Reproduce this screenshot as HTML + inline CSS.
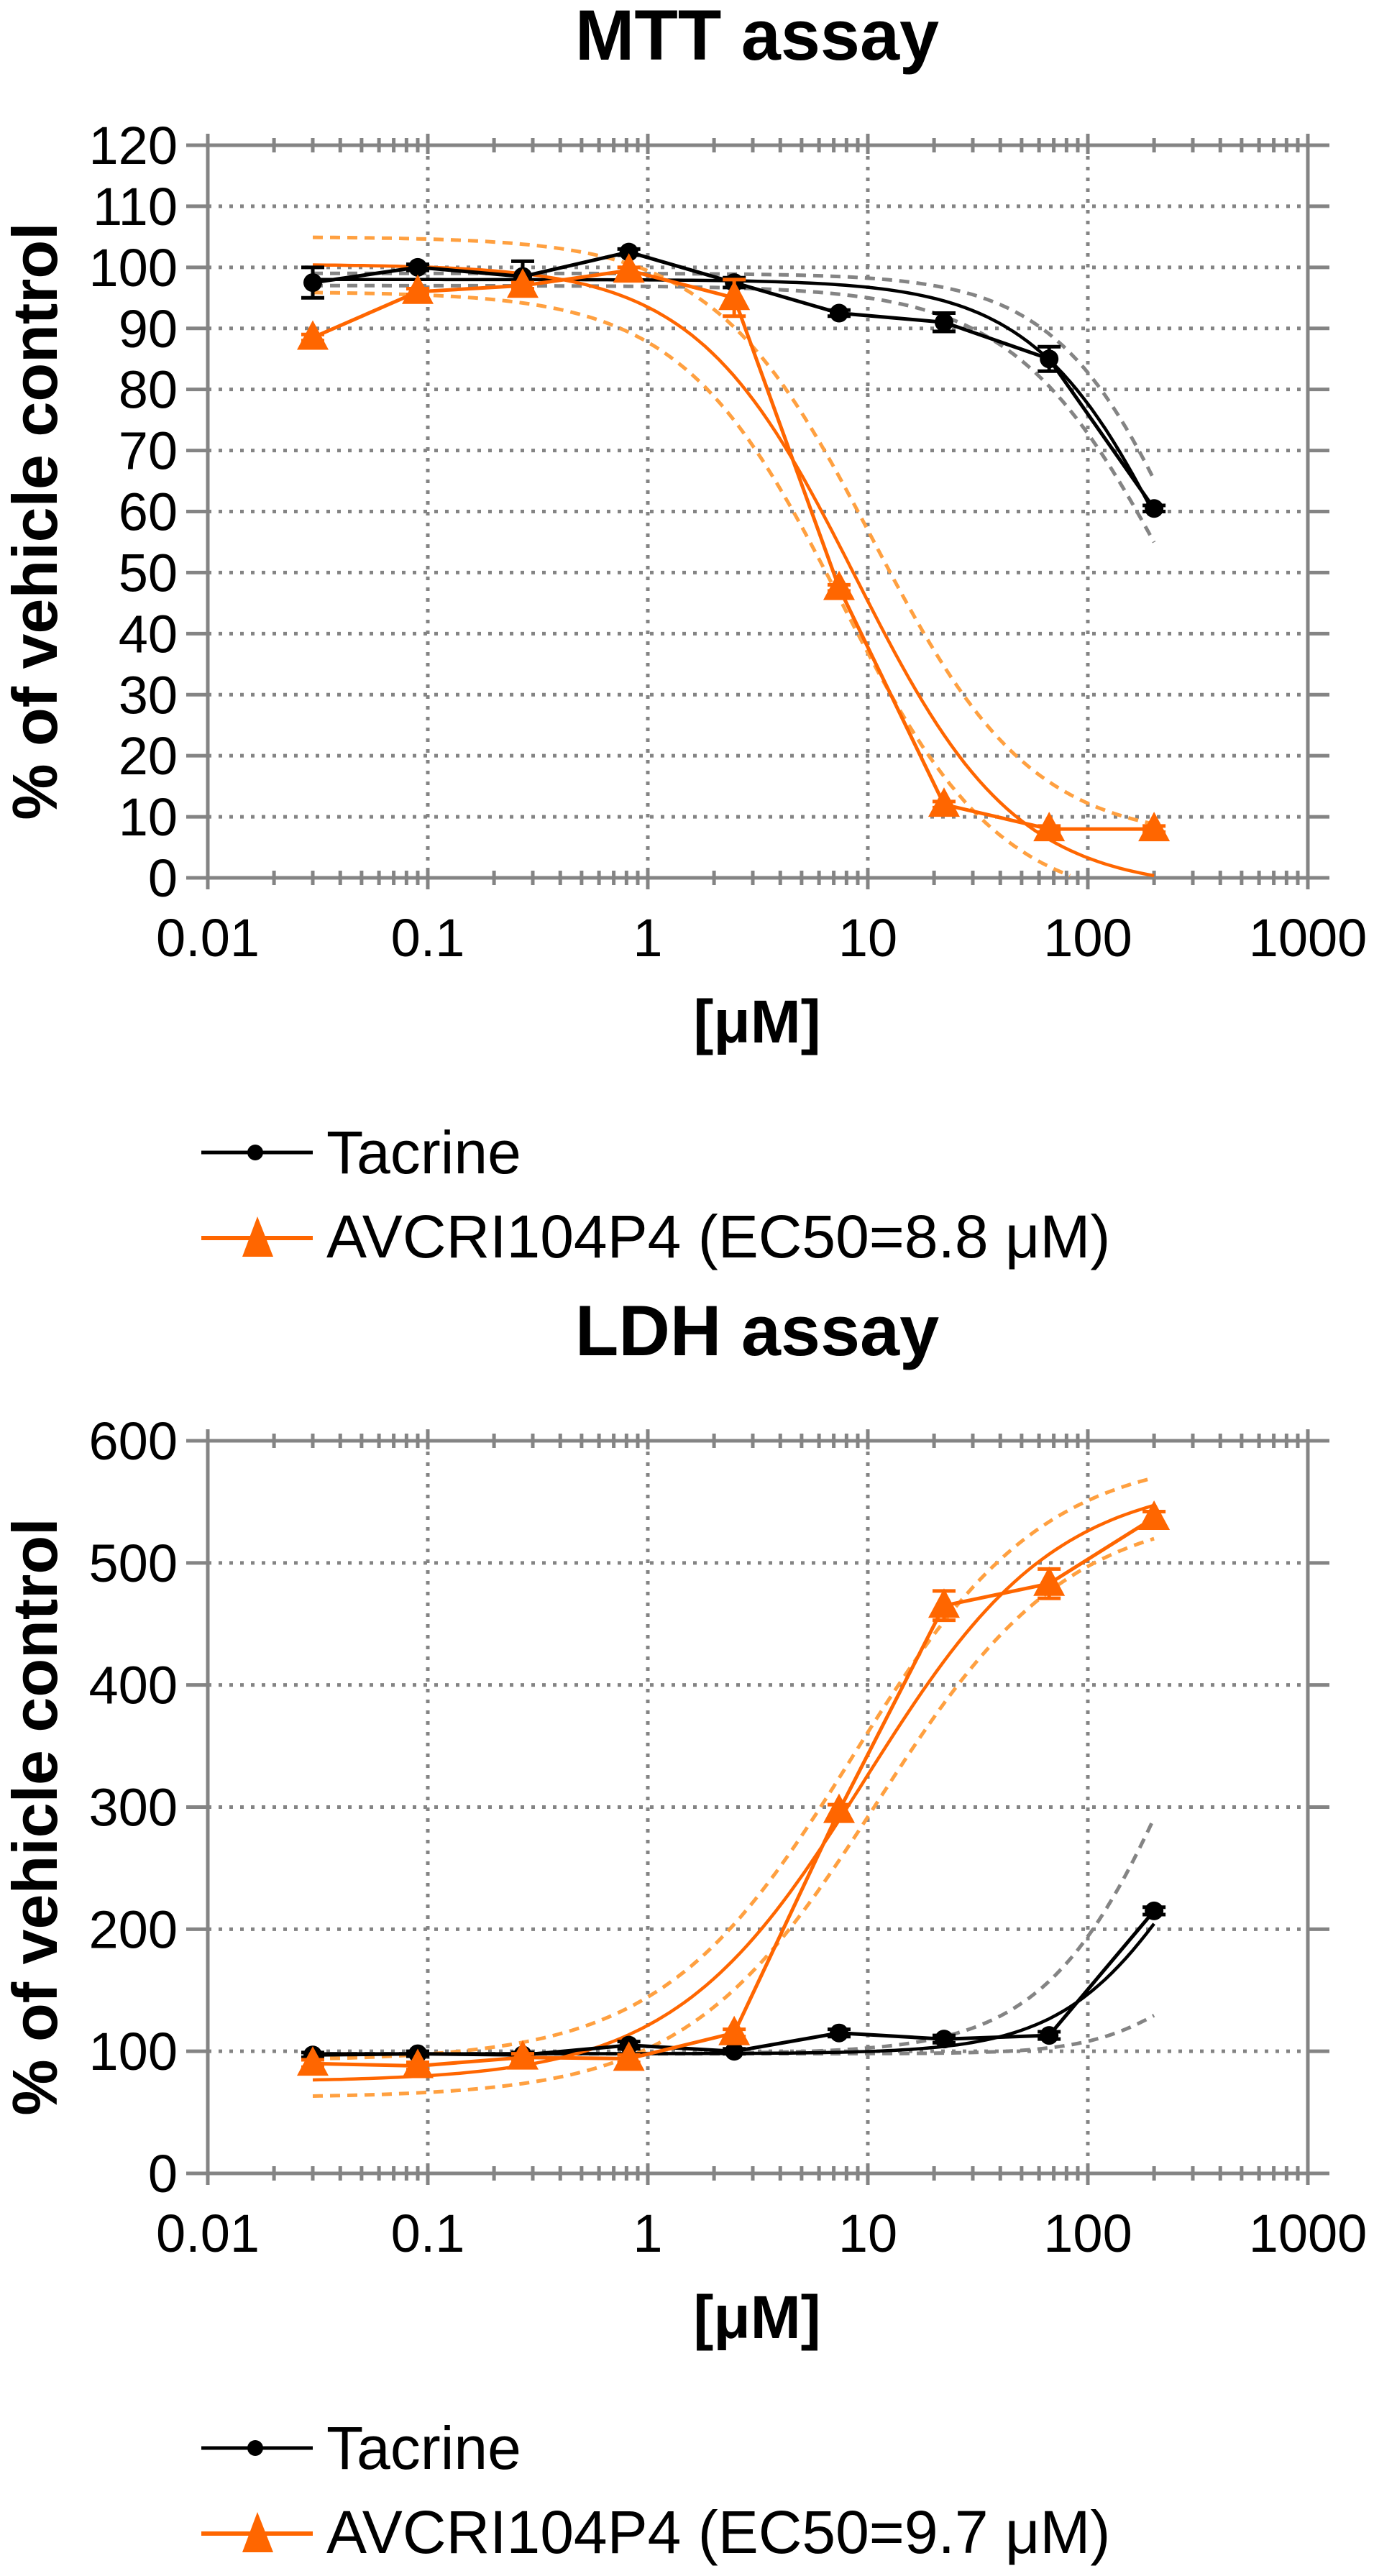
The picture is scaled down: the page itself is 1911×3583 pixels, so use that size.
<!DOCTYPE html>
<html><head><meta charset="utf-8">
<style>
html,body{margin:0;padding:0;background:#fff;}
svg{display:block;}
text{font-family:"Liberation Sans",Arial,sans-serif;}
</style></head>
<body>
<svg id="fig" width="1911" height="3583" viewBox="0 0 1911 3583" xmlns="http://www.w3.org/2000/svg">
<g id="mtt"></g>
<g id="ldh"></g>
</svg>
<script>
// shared concentrations (µM)
const concentrations = [0.03, 0.09, 0.27, 0.82, 2.47, 7.4, 22.2, 66.7, 200];
const xTickLabels = ["0.01", "0.1", "1", "10", "100", "1000"];

// MTT assay
const mttYTicks = [0,10,20,30,40,50,60,70,80,90,100,110,120];
const mttTacrine = [97.5, 100, 98.5, 102.5, 97.5, 92.5, 91, 85, 60.5];
const mttTacrineErr = [2.5, 0.5, 2.5, 0.5, 0.8, 0.5, 1.5, 2, 0.5];
const mttAvcri = [88.5, 96, 97, 99.5, 95, 47.5, 12, 8, 8];
const mttAvcriErr = [0.5, 0.5, 0.5, 0.5, 3, 0.5, 0.5, 0.5, 0.5];
// 4PL fit params: [value at high conc, value at low conc, EC50, hill]
const mttTacrineFit = [0, 98, 280, 1.3];
const mttTacrineFitHi = [0, 99, 320, 1.4];
const mttTacrineFitLo = [0, 97, 250, 1.2];
const mttAvcriFit = [-2, 100.5, 8.8, 1.2];
const mttAvcriFitHi = [6, 105, 10.5, 1.2];
const mttAvcriFitLo = [-5, 96, 7.5, 1.2];

// LDH assay
const ldhYTicks = [0,100,200,300,400,500,600];
const ldhTacrine = [97, 98, 97, 105, 100, 115, 110, 113, 215];
const ldhTacrineErr = [2, 2, 2, 3, 2, 3, 3, 3, 3];
const ldhAvcri = [90, 88, 95, 94, 115, 297, 465, 483, 537];
const ldhAvcriErr = [3, 3, 3, 3, 3, 5, 12, 12, 5];
const ldhTacrineFit = [400, 98, 300, 1.5];
const ldhTacrineFitHi = [600, 98, 280, 1.4];
const ldhTacrineFitLo = [200, 98, 300, 2];
const ldhAvcriFit = [570, 75, 9.7, 1.0];
const ldhAvcriFitHi = [590, 92, 8.5, 1.0];
const ldhAvcriFitLo = [545, 62, 11, 1.0];

const NS = "http://www.w3.org/2000/svg";
const GRAY = "#848484", ORANGE = "#FF6600", LORANGE = "#FFA040";
function mk(tag, attrs, parent){const e=document.createElementNS(NS,tag);for(const k in attrs)e.setAttribute(k,attrs[k]);parent.appendChild(e);return e;}
function fourPL(p, x){return p[0] + (p[1]-p[0]) / (1 + Math.pow(x/p[2], p[3]));}

function drawChart(root, cfg){
  const off = cfg.off;
  const L=289, R=1819, T=202+off, B=1221+off;
  const yMax = cfg.yTicks[cfg.yTicks.length-1];
  const xs = v => L + (Math.log10(v)+2)/5*(R-L);
  const ys = v => B - v/yMax*(B-T);

  let t = mk("text",{x:1053,y:83+off,"font-size":99,"font-weight":"bold","text-anchor":"middle"},root);
  t.textContent = cfg.title;
  
  

  const grid = mk("g",{},root);
  
  
  for(let d=1; d<5; d++){
    const x = L + d/5*(R-L);
    mk("line",{x1:x,y1:T,x2:x,y2:B,stroke:GRAY,"stroke-width":5,"stroke-dasharray":"5 10"},grid);
  }
  cfg.yTicks.forEach(v=>{ if(v>0 && v<yMax){
    mk("line",{x1:L,y1:ys(v),x2:R,y2:ys(v),stroke:GRAY,"stroke-width":5,"stroke-dasharray":"5 10"},grid);
  }});

  const ax = mk("g",{stroke:GRAY,"stroke-width":5,fill:"none"},root);
  
  
  mk("rect",{x:L,y:T,width:R-L,height:B-T},ax);
  for(let d=0; d<=5; d++){
    const x = L + d/5*(R-L);
    mk("line",{x1:x,y1:B-12,x2:x,y2:B+16},ax);
    mk("line",{x1:x,y1:T-16,x2:x,y2:T+12},ax);
    if(d<5) for(let m=2;m<10;m++){
      const xm = x + Math.log10(m)/5*(R-L);
      mk("line",{x1:xm,y1:B-10,x2:xm,y2:B+10},ax);
      mk("line",{x1:xm,y1:T-10,x2:xm,y2:T+10},ax);
    }
  }
  cfg.yTicks.forEach(v=>{
    mk("line",{x1:L-30,y1:ys(v),x2:L,y2:ys(v)},ax);
    mk("line",{x1:R,y1:ys(v),x2:R+30,y2:ys(v)},ax);
  });

  const yl = mk("g",{"font-size":74,"text-anchor":"end"},root);
  
  
  cfg.yTicks.forEach(v=>{
    const e = mk("text",{x:247,y:ys(v)+26},yl); e.textContent = String(v);
  });
  const xl = mk("g",{"font-size":74,"text-anchor":"middle"},root);
  
  
  xTickLabels.forEach((s,i)=>{
    const e = mk("text",{x:L+i/5*(R-L),y:1330+off},xl); e.textContent = s;
  });

  const yt = mk("text",{x:0,y:0,"font-size":88,"font-weight":"bold","text-anchor":"middle",transform:`translate(79,${725+off}) rotate(-90)`},root);
  yt.textContent = "% of vehicle control";
  
  
  const xt = mk("text",{x:1053,y:1450+off,"font-size":84,"font-weight":"bold","text-anchor":"middle"},root);
  xt.textContent = "[μM]";
  
  

  function curve(p, color, dashed, name){
    const pts=[];
    const lo=Math.log10(concentrations[0]), hi=Math.log10(concentrations[concentrations.length-1]);
    for(let i=0;i<=120;i++){
      const x = Math.pow(10, lo+(hi-lo)*i/120);
      const y = fourPL(p,x);
      if(y<0 || y>yMax) continue;
      pts.push(xs(x).toFixed(1)+","+ys(y).toFixed(1));
    }
    const e = mk("polyline",{points:pts.join(" "),fill:"none",stroke:color,"stroke-width":dashed?5:4.5},root);
    if(dashed) e.setAttribute("stroke-dasharray","14 10");
    
    
  }
  curve(cfg.tacFitHi, GRAY, true, 'tacrine-ci-upper');
  curve(cfg.tacFitLo, GRAY, true, 'tacrine-ci-lower');
  curve(cfg.avFitHi, LORANGE, true, 'avcri-ci-upper');
  curve(cfg.avFitLo, LORANGE, true, 'avcri-ci-lower');
  curve(cfg.tacFit, "#000", false, 'tacrine-fit');
  curve(cfg.avFit, ORANGE, false, 'avcri-fit');

  function series(vals, errs, color, marker, name){
    const g = mk("g",{},root);
    
    
    mk("polyline",{points:vals.map((v,i)=>xs(concentrations[i]).toFixed(1)+","+ys(v).toFixed(1)).join(" "),fill:"none",stroke:color,"stroke-width":5},g);
    vals.forEach((v,i)=>{
      const x=xs(concentrations[i]), y=ys(v), eh=errs[i]/yMax*(B-T);
      if(eh>3){
        mk("path",{d:`M${x},${y-eh}V${y+eh}M${x-16},${y-eh}H${x+16}M${x-16},${y+eh}H${x+16}`,stroke:color,"stroke-width":5,fill:"none"},g);
      }
      let m;
      if(marker==="circle") m = mk("circle",{cx:x,cy:y,r:13,fill:color},g);
      else m = mk("polygon",{points:`${x},${y-24} ${x-22},${y+17} ${x+22},${y+17}`,fill:color},g);
      
      
    });
  }
  series(cfg.tac, cfg.tacErr, "#000", "circle", 'tacrine-series');
  series(cfg.av, cfg.avErr, ORANGE, "tri", 'avcri-series');

  const lg = mk("g",{},root);
  
  
  const y1=1603+off, y2=1722+off;
  mk("line",{x1:280,y1:y1,x2:435,y2:y1,stroke:"#000","stroke-width":5},lg);
  mk("circle",{cx:355,cy:y1,r:11,fill:"#000"},lg);
  let e1 = mk("text",{x:454,y:y1+29,"font-size":84},lg); e1.textContent="Tacrine";
  
  
  mk("line",{x1:280,y1:y2,x2:435,y2:y2,stroke:ORANGE,"stroke-width":6},lg);
  mk("polygon",{points:`358,${y2-30} 337,${y2+26} 380,${y2+26}`,fill:ORANGE},lg);
  let e2 = mk("text",{x:454,y:y2+27,"font-size":84},lg); e2.textContent=cfg.legend2;
  
  
}

drawChart(document.getElementById("mtt"),{off:0,title:"MTT assay",yTicks:mttYTicks,
  tac:mttTacrine,tacErr:mttTacrineErr,av:mttAvcri,avErr:mttAvcriErr,
  tacFit:mttTacrineFit,tacFitHi:mttTacrineFitHi,tacFitLo:mttTacrineFitLo,
  avFit:mttAvcriFit,avFitHi:mttAvcriFitHi,avFitLo:mttAvcriFitLo,
  legend2:"AVCRI104P4 (EC50=8.8 μM)"});
drawChart(document.getElementById("ldh"),{off:1802,title:"LDH assay",yTicks:ldhYTicks,
  tac:ldhTacrine,tacErr:ldhTacrineErr,av:ldhAvcri,avErr:ldhAvcriErr,
  tacFit:ldhTacrineFit,tacFitHi:ldhTacrineFitHi,tacFitLo:ldhTacrineFitLo,
  avFit:ldhAvcriFit,avFitHi:ldhAvcriFitHi,avFitLo:ldhAvcriFitLo,
  legend2:"AVCRI104P4 (EC50=9.7 μM)"});
</script>
</body></html>
